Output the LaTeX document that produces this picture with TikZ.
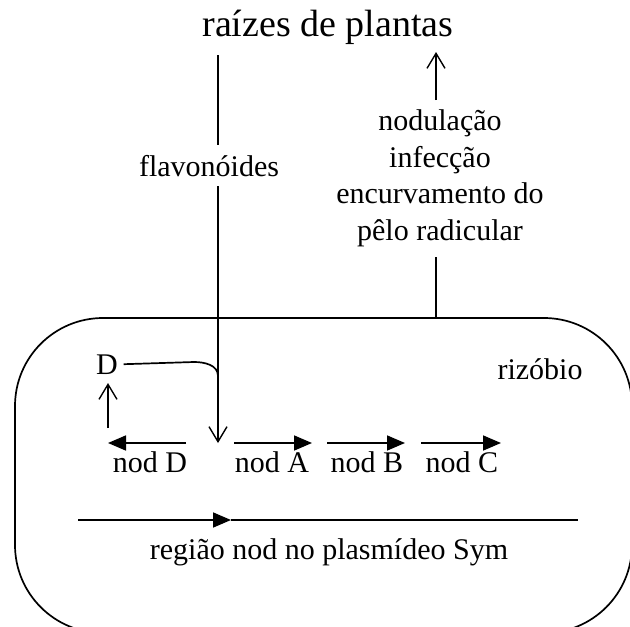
\documentclass[tikz,border=0pt]{standalone}
\usepackage{fontspec}
\setmainfont{Liberation Serif}
\usetikzlibrary{arrows.meta}
\begin{document}
\begin{tikzpicture}[x=1pt,y=-1pt, line width=1.7pt,
  lbl/.style={anchor=base, inner sep=0pt, font=\fontsize{30}{36}\selectfont},
  barb/.style={-{Straight Barb[length=15pt,width=18pt,line width=1.4pt]}},
  tri/.style={-{Triangle[length=18pt,width=15pt]}}]
\useasboundingbox (0,0) rectangle (630,627);
% rhizobium cell
\draw[rounded corners=88pt] (15,318) rectangle (632,633);
% title
\node[anchor=base, inner sep=0pt, font=\fontsize{38}{44}\selectfont] (raiz) at (328,36) {raízes de plantas};
% flavonoid signal
\coordinate (vtop) at (218,55);
\coordinate (vtip) at (218,443);
\draw[barb] (vtop) -- (vtip);
\node[lbl, fill=white, inner xsep=2pt, inner ysep=10pt] (flav) at (209,176) {flavonóides};
% D protein
\node[lbl] (D) at (107,374) {D};
\coordinate (dj) at (218,376);
\draw ([xshift=5pt]D.east) -- (194,362) to[out=0,in=90] (dj);
\coordinate (dup0) at (108,428);
\coordinate (dup1) at (108,383);
\draw[barb] (dup0) -- (dup1);
% right responses
\node[lbl] (t1) at (440,130) {nodulação};
\node[lbl] (t2) at (440,167) {infecção};
\node[lbl] (t3) at (440,203) {encurvamento do};
\node[lbl] (t4) at (440,240) {pêlo radicular};
\coordinate (rb) at (436,318);
\coordinate (r1) at (436,257);
\coordinate (r2) at (436,100);
\coordinate (rt) at (436,52);
\draw (rb) -- (r1);
\draw[barb] (r2) -- (rt);
% rizobio label
\node[lbl] (riz) at (540,379) {rizóbio};
% nod genes
\coordinate (dS) at (186,443); \coordinate (dE) at (108,443);
\coordinate (aS) at (234,443); \coordinate (aE) at (312,443);
\coordinate (bS) at (327,443); \coordinate (bE) at (405,443);
\coordinate (cS) at (421,443); \coordinate (cE) at (501,443);
\draw[tri] (dS) -- (dE);
\draw[tri] (aS) -- (aE);
\draw[tri] (bS) -- (bE);
\draw[tri] (cS) -- (cE);
\node[lbl] (nD) at (150,472) {nod D};
\node[lbl] (nA) at (272,472) {nod A};
\node[lbl] (nB) at (367,472) {nod B};
\node[lbl] (nC) at (462,472) {nod C};
% plasmid region
\coordinate (ls) at (78,520);
\coordinate (lm) at (231,520);
\coordinate (le) at (578,520);
\draw[tri] (ls) -- (lm);
\draw (lm) -- (le);
\node[lbl] (reg) at (329,559) {região nod no plasmídeo Sym};
\end{tikzpicture}
\end{document}
